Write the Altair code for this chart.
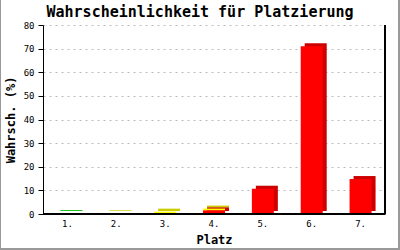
import altair as alt
import pandas as pd

places = ["1.", "2.", "3.", "4.", "5.", "6.", "7."]
red_vals = [0, 0, 0, 1.6, 10.7, 71.0, 14.8]
yellow_vals = [0, 0.3, 1.0, 0.7, 0, 0, 0]
green_vals = [0.4, 0, 0, 0, 0, 0, 0]

series_names = ["rot", "gelb", "grün"]
front_colors = ["#ff0000", "#ffff00", "#22dd22"]
dark_colors = ["#cc0000", "#cccc00", "#11bb11"]
title_text = "Wahrscheinlichkeit für Platzierung"

rows = []
for i, p in enumerate(places):
    for k, (name, vals) in enumerate(zip(series_names, [red_vals, yellow_vals, green_vals])):
        if vals[i] > 0:
            rows.append({"Platz": p, "Serie": name, "Wert": vals[i], "ord": k})
df = pd.DataFrame(rows)

FONT = "DejaVu Sans Mono"
W, H = 342, 189

x_enc = alt.X("Platz:N", sort=places,
              scale=alt.Scale(domain=places, paddingInner=0.0, paddingOuter=0.0),
              axis=alt.Axis(title="Platz", labelAngle=0, ticks=False, domainColor="black",
                            labelFont=FONT, labelFontSize=9, labelColor="black", labelPadding=5,
                            titleFont=FONT, titleFontSize=12, titleFontWeight="bold",
                            titleColor="black", titlePadding=6, grid=False))
y_enc = alt.Y("Wert:Q", stack="zero",
              scale=alt.Scale(domain=[0, 80], nice=False),
              axis=alt.Axis(title="Wahrsch. (%)", values=list(range(0, 81, 10)),
                            labelOverlap=False,
                            domainColor="black", tickColor="black", tickSize=5,
                            labelFont=FONT, labelFontSize=9, labelColor="black", labelPadding=4,
                            titleFont=FONT, titleFontSize=12, titleFontWeight="bold",
                            titleColor="black", titlePadding=6,
                            grid=True, gridColor="#bbbbbb", gridDash=[2, 4], gridWidth=1))

shadow = alt.Chart(df).mark_bar(size=22, xOffset=4, yOffset=-3).encode(
    x=x_enc, y=y_enc,
    color=alt.Color("Serie:N", scale=alt.Scale(domain=series_names, range=dark_colors), legend=None),
    order=alt.Order("ord:Q"),
)
front = alt.Chart(df).mark_bar(size=22).encode(
    x=x_enc, y=y_enc,
    fill=alt.Fill("Serie:N", scale=alt.Scale(domain=series_names, range=front_colors), legend=None),
    order=alt.Order("ord:Q"),
)

right_line = alt.Chart(df).mark_rule(color="black", strokeWidth=1.5).encode(
    x=alt.value(W), y=alt.value(0), y2=alt.value(H))
base_line = alt.Chart(df).mark_rule(color="black", strokeWidth=1.5).encode(
    x=alt.value(0), x2=alt.value(W), y=alt.value(H))

title_mark = alt.Chart(pd.DataFrame({"t": [title_text]})).mark_text(
    font=FONT, fontSize=15, fontWeight="bold", color="black", align="center", baseline="middle"
).encode(text="t:N", x=alt.value(157), y=alt.value(-13))

border_l = alt.Chart(df).mark_rule(color="#999999", strokeWidth=1).encode(
    x=alt.value(-42.5), y=alt.value(-25), y2=alt.value(225))
border_r = alt.Chart(df).mark_rule(color="#999999", strokeWidth=2).encode(
    x=alt.value(356), y=alt.value(-25), y2=alt.value(225))
border_b = alt.Chart(df).mark_rule(color="#999999", strokeWidth=2).encode(
    x=alt.value(-43), x2=alt.value(357), y=alt.value(224))

chart = alt.layer(shadow, front, base_line, right_line, title_mark, border_l, border_r, border_b).properties(
    width=W, height=H,
    autosize=alt.AutoSizeParams(type="none"),
    padding={"left": 43, "top": 25, "right": 15, "bottom": 36},
    background="white",
).configure_view(stroke=None)

chart.save("out.html", embed_options={"renderer": "svg", "actions": False})
